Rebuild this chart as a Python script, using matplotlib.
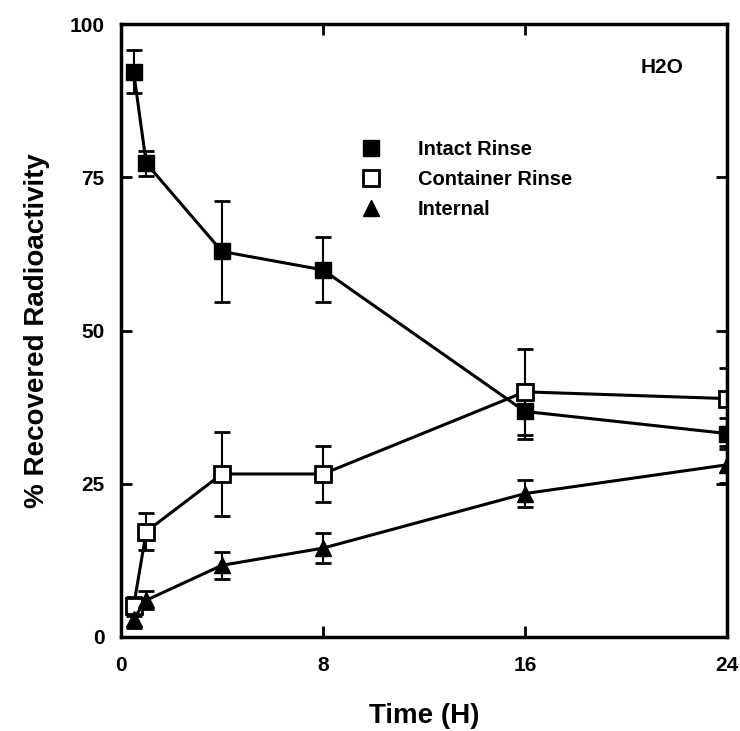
import matplotlib
matplotlib.use("Agg")
import matplotlib.pyplot as plt
from matplotlib.lines import Line2D

time_h = [0.5, 1, 4, 8, 16, 24]

intact_rinse = [92.2, 77.3, 62.9, 59.9, 36.8, 33.2]
intact_err = [3.5, 2.0, 8.3, 5.3, 4.5, 2.5]

container_rinse = [5.0, 17.2, 26.6, 26.6, 40.0, 38.9]
container_err = [1.5, 3.0, 6.9, 4.5, 7.0, 5.0]

internal = [3.0, 6.0, 11.7, 14.5, 23.4, 28.1]
internal_err = [1.5, 1.5, 2.2, 2.5, 2.2, 3.0]

x_ticks = [0, 8, 16, 24]
y_ticks = [0, 25, 50, 75, 100]

plt.rcParams['font.family'] = ['Liberation Sans', 'DejaVu Sans']
plt.rcParams['font.weight'] = 'bold'

fig = plt.figure(figsize=(7.4, 7.31), dpi=100)
ax = fig.add_axes([0.1635, 0.1286, 0.8189, 0.8384])

common = dict(color='black', ecolor='black', elinewidth=1.5, capsize=6,
              capthick=2, linewidth=2.2, markersize=11)
ax.errorbar(time_h, intact_rinse, yerr=intact_err, marker='s', mfc='black',
            mec='black', **common)
ax.errorbar(time_h, container_rinse, yerr=container_err, marker='s', mfc='white',
            mec='black', mew=2, **common)
ax.errorbar(time_h, internal, yerr=internal_err, marker='^', mfc='black',
            mec='black', **common)

ax.set_xlim(0, 24)
ax.set_ylim(0, 100)
ax.set_xticks(x_ticks)
ax.set_yticks(y_ticks)
ax.tick_params(direction='in', length=8, width=2, top=True, right=True,
               labelsize=15)
ax.tick_params(axis='x', pad=14)
ax.tick_params(axis='y', pad=12)
for s in ax.spines.values():
    s.set_linewidth(2.5)

ax.set_xlabel('Time (H)', fontsize=20, fontweight='bold', labelpad=20)
ax.set_ylabel('% Recovered Radioactivity', fontsize=20, fontweight='bold', labelpad=14)

ax.text(0.928, 0.945, 'H2O', transform=ax.transAxes, fontsize=15,
        fontweight='bold', ha='right', va='top')

handles = [
    Line2D([], [], ls='none', marker='s', mfc='black', mec='black', ms=11),
    Line2D([], [], ls='none', marker='s', mfc='white', mec='black', mew=2, ms=11),
    Line2D([], [], ls='none', marker='^', mfc='black', mec='black', ms=11),
]
ax.legend(handles, ['Intact Rinse', 'Container Rinse', 'Internal'],
          loc='upper left', bbox_to_anchor=(0.35, 0.84), frameon=False,
          fontsize=14.5, handletextpad=1.3, labelspacing=0.55)

fig.savefig('out.png', dpi=100)
